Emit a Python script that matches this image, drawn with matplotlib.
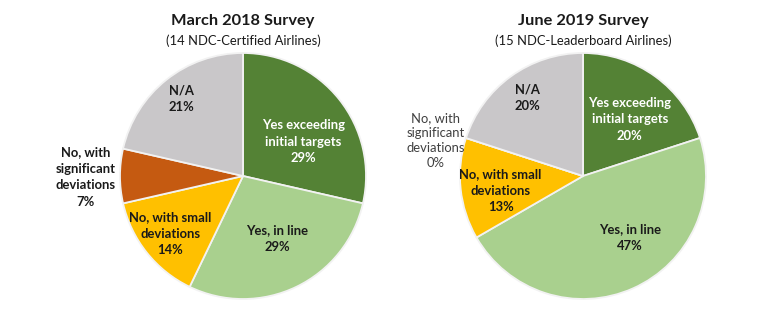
import matplotlib.pyplot as plt

plt.rcParams["font.family"] = ["Lato", "DejaVu Sans"]

W, H = 780, 328
DPI = 100

# Survey answers, clockwise from 12 o'clock
categories = ["Yes exceeding\ninitial targets", "Yes, in line", "No, with small\ndeviations",
              "No, with\nsignificant\ndeviations", "N/A"]
colors = ["#548235", "#a9d08e", "#ffc000", "#c55a11", "#c9c7c9"]

mar2018_counts = [4, 4, 2, 1, 3]    # 14 NDC-certified airlines
jun2019_counts = [3, 7, 2, 0, 3]    # 15 NDC-leaderboard airlines

mar2018_pct = [29, 29, 14, 7, 21]
jun2019_pct = [20, 47, 13, 0, 20]

# label placement in units of pie radius
mar_label_xy = [(0.49, 0.28), (0.28, -0.51), (-0.59, -0.47), (-1.28, -0.01), (-0.50, 0.63)]
jun_label_xy = [(0.38, 0.46), (0.38, -0.50), (-0.67, -0.12), (-1.20, 0.29), (-0.45, 0.64)]

PIE_R = 123   # px
LIM = 1.6


def px_axes(cx, cy):
    """Square axes centred on pixel (cx, cy) from top-left, limits +-LIM radii."""
    side = 2 * LIM * PIE_R
    left = (cx - side / 2) / W
    bottom = (H - cy - side / 2) / H
    return [left, bottom, side / W, side / H]


def draw_pie(fig, cx, cy, counts, pct, label_xy, title, subtitle):
    ax = fig.add_axes(px_axes(cx, cy))
    ax.pie(counts, colors=colors, startangle=90, counterclock=False, radius=1,
           wedgeprops=dict(edgecolor="#f2f2f2", linewidth=1.3))
    ax.set_xlim(-LIM, LIM)
    ax.set_ylim(-LIM, LIM)
    ax.set_aspect("equal")
    ax.axis("off")
    for i, (lab, p, (x, y)) in enumerate(zip(categories, pct, label_xy)):
        txt = f"{lab}\n{p}%"
        if p == 0:
            ax.text(x, y, txt, ha="center", va="center", fontsize=9.4,
                    color="#404040", linespacing=1.3, clip_on=False)
        else:
            ax.text(x, y, txt, ha="center", va="center", fontsize=9.4,
                    fontweight="bold", color="white" if i == 0 else "#1a1a1a",
                    linespacing=1.45, clip_on=False)
    fig.text(cx / W, 1 - 21 / H, title, ha="center", va="center",
             fontsize=11.8, fontweight="bold", color="#1a1a1a")
    fig.text(cx / W, 1 - 41 / H, subtitle, ha="center", va="center",
             fontsize=9.4, color="#1a1a1a")


fig = plt.figure(figsize=(W / DPI, H / DPI), dpi=DPI)
draw_pie(fig, 243, 176, mar2018_counts, mar2018_pct, mar_label_xy,
         "March 2018 Survey", "(14 NDC-Certified Airlines)")
draw_pie(fig, 583, 176, jun2019_counts, jun2019_pct, jun_label_xy,
         "June 2019 Survey", "(15 NDC-Leaderboard Airlines)")
fig.savefig("out.png", dpi=DPI, facecolor="white")
